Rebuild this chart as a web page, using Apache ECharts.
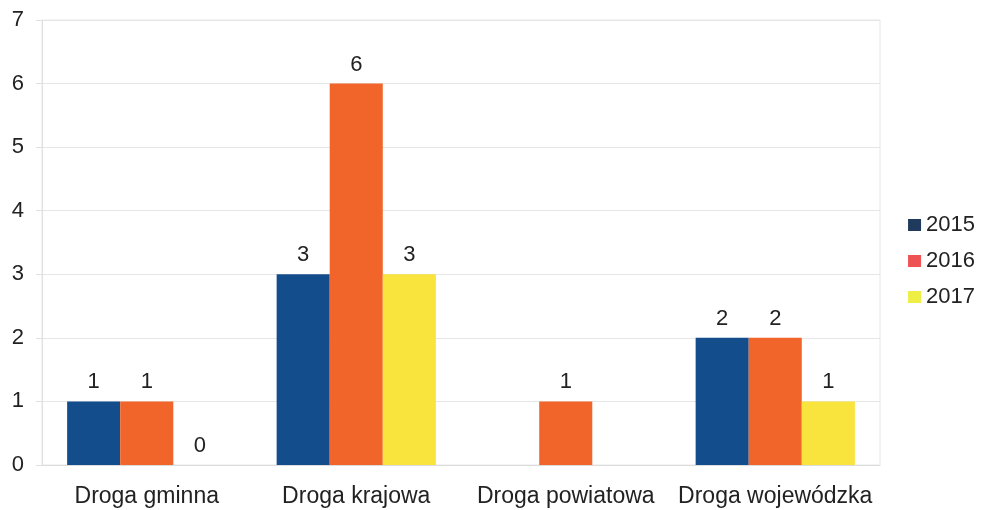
<!DOCTYPE html>
<html><head><meta charset="utf-8">
<script src="https://cdn.jsdelivr.net/npm/echarts@6/dist/echarts.min.js"></script>
<style>html,body{margin:0;padding:0;background:#fff}#c{width:982px;height:510px}</style>
</head><body><div id="c"></div>
<script>
const categories = ['Droga gminna', 'Droga krajowa', 'Droga powiatowa', 'Droga wojewódzka'];
const seriesNames = ['2015', '2016', '2017'];
const v2015 = [1, 3, null, 2];
const v2016 = [1, 6, 1, 2];
const v2017 = [0, 3, null, 1];
const yTicks = [0, 1, 2, 3, 4, 5, 6, 7];

const colors = ['#134d8b', '#f2652a', '#f8e43c'];
const legendColors = ['#1f3a5c', '#ee5252', '#eeee44'];
const font = 'Liberation Sans, Arial, sans-serif';
const chart = echarts.init(document.getElementById('c'));
const data = [v2015, v2016, v2017];
chart.setOption({
  animation: false,
  grid: { left: 42, right: 102, top: 20, bottom: 45, show: true, borderColor: '#e6e6e6', borderWidth: 1 },
  legend: {
    orient: 'vertical', right: 2, top: 209, itemWidth: 13, itemHeight: 12, itemGap: 14,
    textStyle: { fontFamily: font, fontSize: 22, color: '#222' },
    data: seriesNames.map((n, i) => ({ name: n, icon: 'rect', itemStyle: { color: legendColors[i] } }))
  },
  xAxis: {
    type: 'category', data: categories,
    axisLine: { show: true, lineStyle: { color: '#dcdcdc' } },
    axisTick: { show: false },
    axisLabel: { fontFamily: font, fontSize: 23, color: '#222', margin: 20, interval: 0 }
  },
  yAxis: {
    type: 'value', min: 0, max: 7, interval: 1,
    axisLine: { show: true, lineStyle: { color: '#e0e0e0' } },
    axisTick: { show: true, length: 6, lineStyle: { color: '#e0e0e0' } },
    splitLine: { lineStyle: { color: '#e6e6e6' } },
    axisLabel: { fontFamily: font, fontSize: 22, color: '#222', margin: 18,
      formatter: v => yTicks.includes(v) ? String(v) : '' }
  },
  series: seriesNames.map((n, i) => ({
    name: n, type: 'bar', data: data[i], barGap: '0%', barCategoryGap: '24%',
    itemStyle: { color: colors[i] },
    label: { show: true, position: 'top', distance: 8, fontFamily: font, fontSize: 22, color: '#222' }
  }))
});
</script></body></html>
